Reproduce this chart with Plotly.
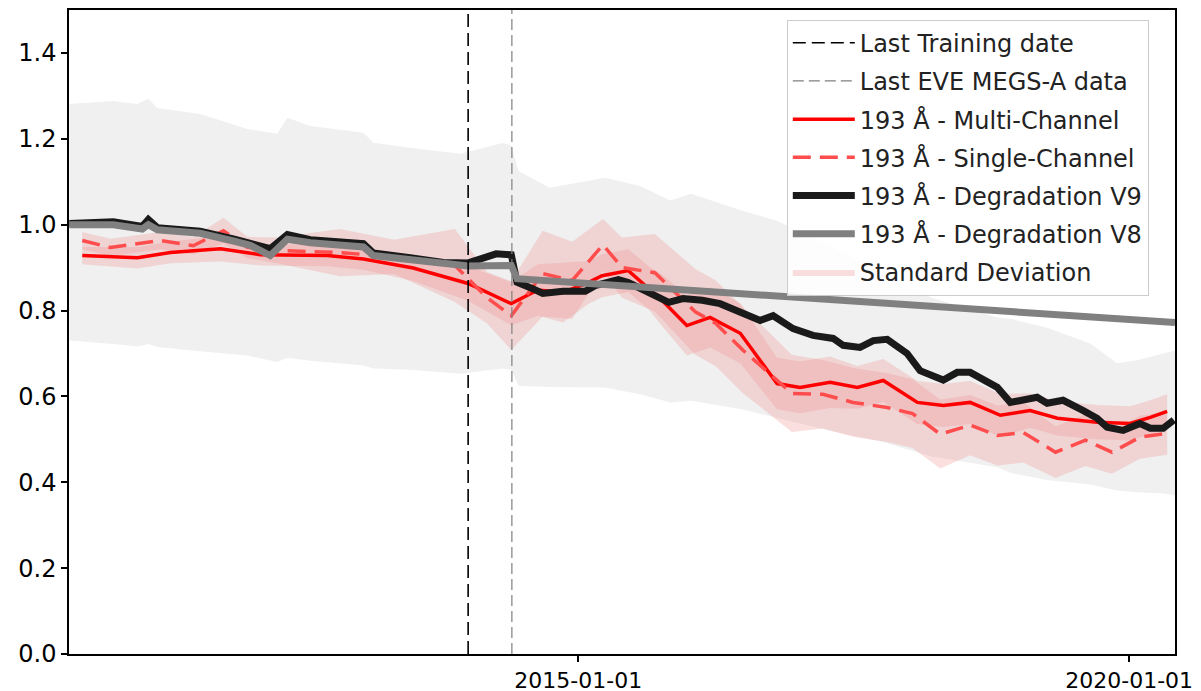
import plotly.graph_objects as go

# ---------------- data ----------------
v9_dates = ["2010-05-20", "2010-10-13", "2011-01-17", "2011-02-06", "2011-03-08", "2011-07-28",
            "2011-11-15", "2012-01-10", "2012-03-16", "2012-05-12", "2012-07-27", "2013-01-19",
            "2013-02-21", "2013-06-23", "2013-10-11", "2014-01-01", "2014-03-05", "2014-04-04",
            "2014-05-24", "2014-06-12", "2014-08-03", "2014-09-05", "2014-11-11", "2015-01-24",
            "2015-02-26", "2015-05-14", "2015-06-16", "2015-08-22", "2015-10-28", "2015-12-14",
            "2016-02-16", "2016-04-15", "2016-06-11", "2016-08-26", "2016-10-08", "2016-12-13",
            "2017-02-17", "2017-04-25", "2017-05-28", "2017-07-23", "2017-09-05", "2017-10-21",
            "2017-12-26", "2018-02-07", "2018-04-25", "2018-06-10", "2018-07-23", "2018-10-21",
            "2018-12-03", "2019-01-15", "2019-03-02", "2019-04-04", "2019-05-27", "2019-08-02",
            "2019-09-17", "2019-10-20", "2019-12-12", "2020-02-06", "2020-03-11", "2020-04-23",
            "2020-05-28"]
v9_values = [1.003, 1.007, 0.996, 1.012, 0.993, 0.985,
             0.967, 0.958, 0.944, 0.977, 0.965, 0.956,
             0.934, 0.923, 0.912, 0.911, 0.925, 0.932,
             0.930, 0.866, 0.851, 0.840, 0.845, 0.845,
             0.858, 0.872, 0.865, 0.842, 0.819, 0.828,
             0.824, 0.816, 0.800, 0.777, 0.788, 0.758,
             0.742, 0.735, 0.719, 0.714, 0.730, 0.733,
             0.700, 0.660, 0.638, 0.656, 0.656, 0.621,
             0.586, 0.591, 0.598, 0.584, 0.591, 0.567,
             0.549, 0.528, 0.521, 0.537, 0.526, 0.526,
             0.545]

v8_dates = ["2010-05-20", "2010-10-13", "2011-01-17", "2011-02-06", "2011-03-08", "2011-07-28",
            "2011-11-15", "2012-01-10", "2012-03-16", "2012-05-12", "2012-07-27", "2013-01-19",
            "2013-02-21", "2013-06-23", "2013-10-11", "2014-01-01", "2014-05-24", "2014-06-12",
            "2020-06-01"]
v8_values = [1.000, 1.000, 0.990, 1.000, 0.988, 0.980,
             0.962, 0.952, 0.928, 0.966, 0.958, 0.948,
             0.928, 0.918, 0.907, 0.904, 0.905, 0.874,
             0.772]

multi_dates = ["2010-07-02", "2011-01-01", "2011-04-20", "2011-10-03", "2012-02-12", "2012-09-21",
               "2013-01-19", "2013-07-03", "2014-01-01", "2014-05-24", "2014-08-20", "2014-11-11",
               "2015-02-03", "2015-03-21", "2015-06-16", "2015-08-22", "2015-10-07", "2015-12-27",
               "2016-03-13", "2016-06-21", "2016-10-21", "2017-01-05", "2017-04-15", "2017-07-14",
               "2017-10-08", "2018-01-29", "2018-04-25", "2018-07-23", "2018-10-31", "2019-02-07",
               "2019-05-08", "2019-09-17", "2020-01-04", "2020-03-11", "2020-05-06"]
multi_values = [0.928, 0.923, 0.935, 0.944, 0.930, 0.928,
                0.920, 0.899, 0.863, 0.816, 0.848, 0.842,
                0.865, 0.881, 0.893, 0.853, 0.823, 0.765,
                0.784, 0.747, 0.630, 0.621, 0.633, 0.621,
                0.637, 0.586, 0.579, 0.586, 0.556, 0.567,
                0.549, 0.540, 0.537, 0.551, 0.565]
multi_std = [0.020, 0.025, 0.025, 0.030, 0.025, 0.025,
             0.025, 0.030, 0.040, 0.050, 0.060, 0.070,
             0.050, 0.050, 0.050, 0.050, 0.060, 0.070,
             0.070, 0.070, 0.060, 0.060, 0.060, 0.050,
             0.050, 0.050, 0.050, 0.050, 0.050, 0.040,
             0.040, 0.040, 0.040, 0.040, 0.040]

single_dates = ["2010-07-02", "2010-10-03", "2011-03-18", "2011-07-05", "2011-10-13", "2011-12-31",
                "2012-04-08", "2012-11-02", "2013-05-01", "2013-11-18", "2014-03-05", "2014-05-24",
                "2014-09-05", "2014-12-12", "2015-03-24", "2015-05-26", "2015-09-12", "2016-01-24",
                "2016-04-01", "2016-07-01", "2016-12-09", "2017-03-22", "2017-06-30", "2017-10-21",
                "2018-01-13", "2018-04-15", "2018-07-23", "2018-10-21", "2019-01-15", "2019-05-02",
                "2019-08-09", "2019-11-05", "2020-02-06", "2020-05-06"]
single_values = [0.963, 0.947, 0.963, 0.951, 0.986, 0.947,
                 0.940, 0.935, 0.925, 0.905, 0.830, 0.788,
                 0.886, 0.870, 0.953, 0.900, 0.888, 0.797,
                 0.770, 0.707, 0.607, 0.605, 0.586, 0.574,
                 0.560, 0.512, 0.533, 0.509, 0.516, 0.470,
                 0.498, 0.470, 0.505, 0.514]
single_std = [0.020, 0.020, 0.020, 0.020, 0.030, 0.025,
              0.030, 0.055, 0.040, 0.085, 0.060, 0.080,
              0.100, 0.090, 0.060, 0.070, 0.090, 0.100,
              0.100, 0.100, 0.090, 0.080, 0.080, 0.080,
              0.080, 0.080, 0.070, 0.070, 0.070, 0.060,
              0.060, 0.050, 0.050, 0.050]

band_dates = ["2010-05-20", "2010-10-13", "2011-01-01", "2011-02-06", "2011-03-08", "2011-07-28",
              "2011-12-31", "2012-04-08", "2012-05-12", "2012-07-27", "2013-01-19", "2013-02-21",
              "2013-06-23", "2013-12-06", "2014-04-25", "2014-05-24", "2014-06-17", "2014-09-28",
              "2015-03-31", "2015-07-25", "2015-11-02", "2016-01-10", "2016-06-25", "2016-10-20",
              "2017-04-15", "2017-09-30", "2018-03-18", "2018-10-21", "2018-12-07", "2019-04-04",
              "2019-08-25", "2019-11-22", "2020-01-27", "2020-04-23", "2020-06-01"]
band_upper = [1.281, 1.288, 1.281, 1.293, 1.272, 1.258,
              1.223, 1.212, 1.249, 1.230, 1.214, 1.191,
              1.179, 1.165, 1.190, 1.185, 1.125, 1.086,
              1.109, 1.090, 1.056, 1.072, 1.033, 1.009,
              0.950, 0.890, 0.830, 0.784, 0.780, 0.760,
              0.723, 0.677, 0.684, 0.700, 0.707]
band_lower = [0.730, 0.722, 0.716, 0.722, 0.715, 0.705,
              0.695, 0.680, 0.690, 0.683, 0.672, 0.665,
              0.662, 0.653, 0.665, 0.662, 0.625, 0.622,
              0.621, 0.605, 0.586, 0.590, 0.570, 0.550,
              0.520, 0.495, 0.460, 0.435, 0.421, 0.405,
              0.395, 0.381, 0.377, 0.374, 0.370]

last_training_date = "2014-01-01"
last_megs_a_date = "2014-05-26"

y_ticks = [0.0, 0.2, 0.4, 0.6, 0.8, 1.0, 1.2, 1.4]
x_ticks = ["2015-01-01", "2020-01-01"]
x_range = ["2010-05-19", "2020-06-01"]
y_range = [0.0, 1.5]

# ---------------- figure ----------------
FONT = "DejaVu Sans"
PINK = "rgba(240,128,128,0.25)"

fig = go.Figure()

# grey overall band
fig.add_trace(go.Scatter(
    x=band_dates + band_dates[::-1],
    y=band_upper + band_lower[::-1],
    fill="toself", fillcolor="#f0f0f0", line=dict(width=0),
    mode="lines", showlegend=False, hoverinfo="skip"))

# std bands
m_up = [v + s for v, s in zip(multi_values, multi_std)]
m_lo = [v - s for v, s in zip(multi_values, multi_std)]
s_up = [v + s for v, s in zip(single_values, single_std)]
s_lo = [v - s for v, s in zip(single_values, single_std)]

fig.add_trace(go.Scatter(
    x=single_dates + single_dates[::-1], y=s_up + s_lo[::-1],
    fill="toself", fillcolor=PINK, line=dict(width=0),
    mode="lines", showlegend=False, hoverinfo="skip"))
fig.add_trace(go.Scatter(
    x=multi_dates + multi_dates[::-1], y=m_up + m_lo[::-1],
    fill="toself", fillcolor=PINK, line=dict(width=0),
    mode="lines", name="Standard Deviation", showlegend=True, legendrank=7,
    legendgroup="g7", hoverinfo="skip"))

fig.add_trace(go.Scatter(
    x=multi_dates, y=multi_values, mode="lines",
    line=dict(color="#ff0000", width=3.5),
    name="193 Å - Multi-Channel", legendrank=3, legendgroup="g3"))
fig.add_trace(go.Scatter(
    x=single_dates, y=single_values, mode="lines",
    line=dict(color="#ff4d4d", width=3.5, dash="18px,9px"),
    name="193 Å - Single-Channel", legendrank=4, legendgroup="g4"))
fig.add_trace(go.Scatter(
    x=v9_dates, y=v9_values, mode="lines",
    line=dict(color="#1a1a1a", width=7),
    name="193 Å - Degradation V9", legendrank=5, legendgroup="g5"))
fig.add_trace(go.Scatter(
    x=v8_dates, y=v8_values, mode="lines",
    line=dict(color="#808080", width=7),
    name="193 Å - Degradation V8", legendrank=6, legendgroup="g6"))

fig.add_trace(go.Scatter(
    x=[last_training_date, last_training_date], y=y_range, mode="lines",
    line=dict(color="#000000", width=1.6, dash="13px,6px"),
    name="Last Training date", legendrank=1, legendgroup="g1"))
fig.add_trace(go.Scatter(
    x=[last_megs_a_date, last_megs_a_date], y=y_range, mode="lines",
    line=dict(color="#808080", width=1.2, dash="11px,5px"),
    name="Last EVE MEGS-A data", legendrank=2, legendgroup="g2"))

axis_common = dict(showline=True, linecolor="black", linewidth=1.5, mirror=True,
                   ticks="outside", ticklen=6, tickwidth=1.5, tickcolor="black",
                   showgrid=False, zeroline=False, automargin=False)

fig.update_xaxes(type="date", range=x_range, tickvals=x_ticks, ticktext=x_ticks,
                 tickfont=dict(family=FONT, size=22, color="black"), **axis_common)
fig.update_yaxes(range=y_range, tickvals=y_ticks, tickformat=".1f",
                 tickfont=dict(family=FONT, size=24, color="black"), **axis_common)

fig.update_layout(
    width=1201, height=691,
    margin=dict(l=61, r=34, t=2, b=45),
    paper_bgcolor="white", plot_bgcolor="white",
    font=dict(family=FONT, size=24, color="#222222"),
    showlegend=True,
    legend=dict(x=0.649, y=0.985, xanchor="left", yanchor="top",
                bgcolor="rgba(255,255,255,0.85)", bordercolor="#cccccc", borderwidth=1,
                font=dict(family=FONT, size=24, color="#222222"),
                itemwidth=62, tracegroupgap=4),
)

fig.write_html("out.html")
